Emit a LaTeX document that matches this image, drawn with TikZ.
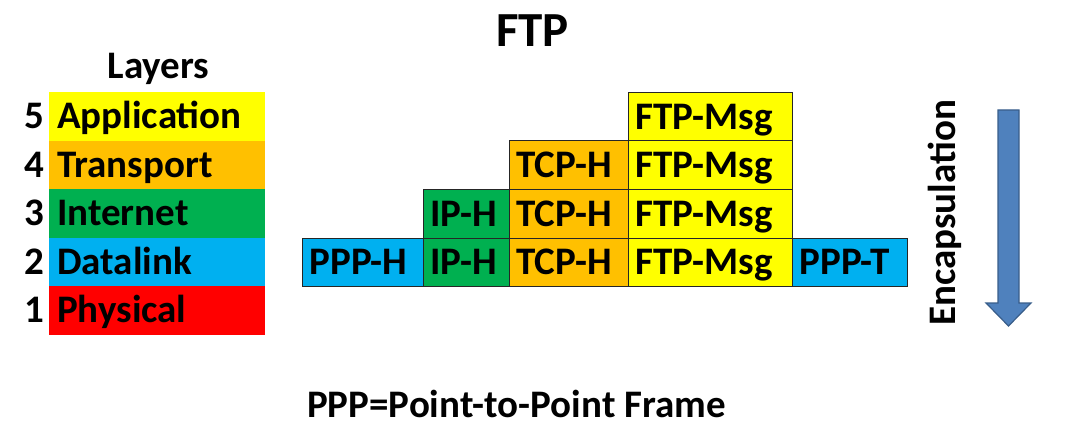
\documentclass[tikz,border=0pt]{standalone}
\usepackage{fontspec}
\setmainfont{Carlito}
\definecolor{cyel}{HTML}{FFFF00}
\definecolor{corg}{HTML}{FFC000}
\definecolor{cgrn}{HTML}{00B050}
\definecolor{cblu}{HTML}{00B0F0}
\definecolor{cred}{HTML}{FF0000}
\definecolor{arrfill}{HTML}{4F81BD}
\definecolor{arrline}{HTML}{385D8A}
\begin{document}
\begin{tikzpicture}[x=1pt,y=-1pt,
  lbl/.style={font=\fontsize{39}{41}\selectfont\bfseries, text=black},
  layer/.style={lbl, anchor=north west, minimum width=216pt, minimum height=48.5pt,
    text width=200pt, inner xsep=8pt, inner ysep=0pt, text height=25pt, text depth=0pt, align=left},
  cell/.style={lbl, draw=black!85, line width=1pt, anchor=north west, minimum height=48.5pt,
    inner xsep=7pt, inner ysep=0pt, text height=25pt, text depth=0pt, align=left},
  digit/.style={lbl, anchor=east, inner sep=0pt, text height=25pt, text depth=0pt},
]
\useasboundingbox (0,0) rectangle (1065,441);

% title texts
\node[font=\fontsize{49}{51}\selectfont\bfseries, anchor=base, inner sep=0pt] (title) at (532.5,47) {FTP};
\node[lbl, anchor=base, inner sep=0pt] (layers) at (158.5,79) {Layers};
\node[lbl, anchor=base, inner sep=0pt] (ppp) at (516.5,417) {PPP=Point-to-Point Frame};

% layer bars
\node[layer, fill=cyel] (L5) at (49,92) {Application};
\node[layer, fill=corg] (L4) at (49,140.5) {Transport};
\node[layer, fill=cgrn] (L3) at (49,189) {Internet};
\node[layer, fill=cblu] (L2) at (49,237.5) {Datalink};
\node[layer, fill=cred] (L1) at (49,286) {Physical};
\node[digit] (d5) at (44,116.25) {5};
\node[digit] (d4) at (44,164.75) {4};
\node[digit] (d3) at (44,213.25) {3};
\node[digit] (d2) at (44,261.75) {2};
\node[digit] (d1) at (44,310.25) {1};

% row 5
\node[cell, fill=cyel, text width=150pt] (m5) at (628,92) {FTP-Msg};
% row 4
\node[cell, fill=corg, text width=105pt] (t4) at (509,140.5) {TCP-H};
\node[cell, fill=cyel, text width=150pt] (m4) at (628,140.5) {FTP-Msg};
% row 3
\node[cell, fill=cgrn, text width=72pt] (i3) at (423,189) {IP-H};
\node[cell, fill=corg, text width=105pt] (t3) at (509,189) {TCP-H};
\node[cell, fill=cyel, text width=150pt] (m3) at (628,189) {FTP-Msg};
% row 2
\node[cell, fill=cblu, text width=107pt] (ph2) at (302,237.5) {PPP-H};
\node[cell, fill=cgrn, text width=72pt] (i2) at (423,237.5) {IP-H};
\node[cell, fill=corg, text width=105pt] (t2) at (509,237.5) {TCP-H};
\node[cell, fill=cyel, text width=150pt] (m2) at (628,237.5) {FTP-Msg};
\node[cell, fill=cblu, text width=101pt] (pt2) at (792,237.5) {PPP-T};

% encapsulation
\node[lbl, rotate=90, anchor=base, inner sep=0pt] (enc) at (955,213) {Encapsulation};
\draw[fill=arrfill, draw=arrline, line width=1.2pt, line join=miter]
  (998,110) -- (1019,110) -- (1019,303) -- (1031,303) -- (1008.5,326)
  -- (986,303) -- (998,303) -- cycle;
\end{tikzpicture}
\end{document}
